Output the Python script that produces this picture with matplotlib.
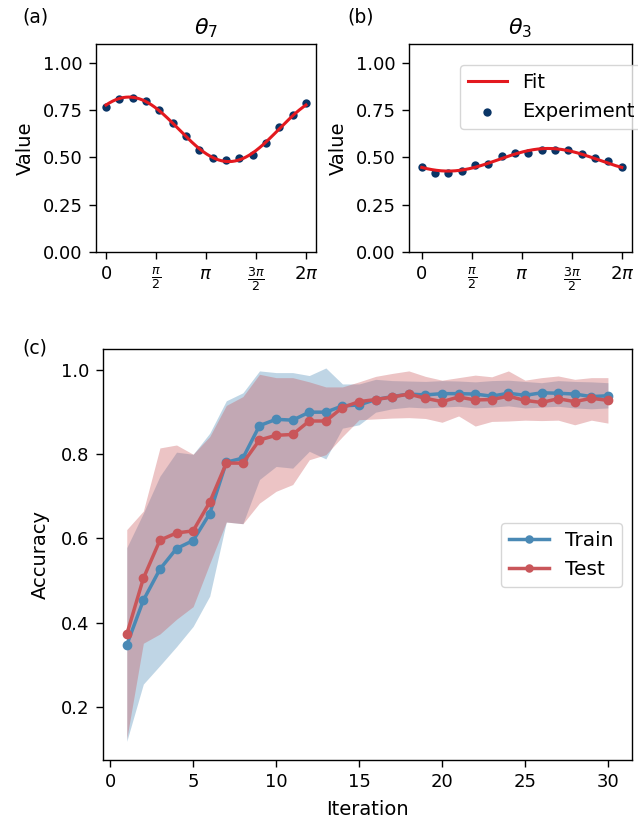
import numpy as np
import matplotlib
matplotlib.use("Agg")
import matplotlib.pyplot as plt

# ---------------- data ----------------
n_angles = 16
theta7_exp = [0.765, 0.809, 0.816, 0.798, 0.749, 0.685, 0.611, 0.540,
              0.496, 0.487, 0.496, 0.512, 0.575, 0.660, 0.724, 0.791]
theta3_exp = [0.448, 0.419, 0.419, 0.430, 0.460, 0.465, 0.508, 0.522,
              0.526, 0.540, 0.540, 0.540, 0.519, 0.497, 0.480, 0.448]

iterations = list(range(1, 31))
train_mean = [0.347, 0.453, 0.527, 0.576, 0.595, 0.659, 0.781, 0.791, 0.868, 0.883,
              0.881, 0.900, 0.900, 0.915, 0.917, 0.930, 0.937, 0.943, 0.941, 0.944,
              0.944, 0.943, 0.938, 0.945, 0.940, 0.946, 0.945, 0.943, 0.937, 0.939]
train_low = [0.118, 0.254, 0.298, 0.343, 0.391, 0.463, 0.639, 0.635, 0.740, 0.771,
             0.767, 0.807, 0.789, 0.862, 0.870, 0.900, 0.908, 0.912, 0.910, 0.912,
             0.914, 0.910, 0.912, 0.915, 0.910, 0.912, 0.914, 0.910, 0.908, 0.910]
train_high = [0.578, 0.660, 0.748, 0.805, 0.800, 0.850, 0.927, 0.946, 0.998, 0.994,
              0.994, 0.987, 1.005, 0.967, 0.967, 0.978, 0.975, 0.974, 0.973, 0.975,
              0.974, 0.972, 0.975, 0.976, 0.973, 0.970, 0.975, 0.973, 0.972, 0.970]

test_mean = [0.372, 0.505, 0.596, 0.613, 0.618, 0.686, 0.779, 0.779, 0.834, 0.845,
             0.847, 0.879, 0.879, 0.911, 0.925, 0.930, 0.936, 0.943, 0.933, 0.925,
             0.936, 0.929, 0.930, 0.938, 0.928, 0.923, 0.932, 0.925, 0.933, 0.928]
test_low = [0.124, 0.351, 0.373, 0.408, 0.438, 0.540, 0.639, 0.635, 0.684, 0.712,
            0.728, 0.787, 0.799, 0.842, 0.882, 0.884, 0.886, 0.887, 0.885, 0.876,
            0.891, 0.867, 0.878, 0.879, 0.881, 0.880, 0.881, 0.870, 0.881, 0.874]
test_high = [0.621, 0.665, 0.815, 0.822, 0.800, 0.842, 0.916, 0.937, 0.990, 0.982,
             0.982, 0.972, 0.960, 0.960, 0.972, 0.985, 0.992, 0.998, 0.985, 0.976,
             0.982, 0.988, 0.984, 0.998, 0.976, 0.982, 0.986, 0.978, 0.982, 0.982]

pi_ticks = [0, np.pi / 2, np.pi, 3 * np.pi / 2, 2 * np.pi]
pi_labels = ['0', r'$\frac{\pi}{2}$', r'$\pi$', r'$\frac{3\pi}{2}$', r'$2\pi$']

# ---------------- style ----------------
FS = 13
LFS = 14
LEGFS = 14.5
plt.rcParams['font.family'] = ['DejaVu Sans']
plt.rcParams['mathtext.fontset'] = 'dejavusans'
plt.rcParams['axes.linewidth'] = 1.0
plt.rcParams['xtick.major.size'] = 5.0
plt.rcParams['ytick.major.size'] = 5.0
plt.rcParams['xtick.major.width'] = 1.0
plt.rcParams['ytick.major.width'] = 1.0
plt.rcParams['xtick.major.pad'] = 4.5
plt.rcParams['ytick.major.pad'] = 4.5

fit_color = '#e3191f'
pt_color = '#0a3566'
train_color = '#4a89b5'
test_color = '#c9565a'

W, H = 638, 823
fig = plt.figure(figsize=(W / 100, H / 100), dpi=100)


def rect(x0, y0, x1, y1):
    return [x0 / W, 1 - y1 / H, (x1 - x0) / W, (y1 - y0) / H]


def sin_fit(x, y, xs):
    A = np.column_stack([np.ones_like(x), np.sin(x), np.cos(x)])
    c, *_ = np.linalg.lstsq(A, y, rcond=None)
    return c[0] + c[1] * np.sin(xs) + c[2] * np.cos(xs)


x_ang = np.linspace(0, 2 * np.pi, n_angles)
x_dense = np.linspace(0, 2 * np.pi, 300)

ax_a = fig.add_axes(rect(96, 44.3, 316, 251.7))
ax_b = fig.add_axes(rect(409, 44.3, 632, 251.7))

for ax, data, title in [(ax_a, theta7_exp, r'$\theta_7$'), (ax_b, theta3_exp, r'$\theta_3$')]:
    y = np.array(data)
    ax.plot(x_dense, sin_fit(x_ang, y, x_dense), color=fit_color, lw=2.2, label='Fit', zorder=3)
    ax.scatter(x_ang, y, color=pt_color, s=36, label='Experiment', zorder=2, linewidths=0)
    ax.set_ylim(0, 1.1)
    ax.set_yticks([0, 0.25, 0.5, 0.75, 1.0])
    ax.set_xticks(pi_ticks)
    ax.set_xticklabels(pi_labels)
    ax.tick_params(labelsize=FS)
    ax.set_ylabel('Value', fontsize=LFS, labelpad=6)
    ax.set_title(title, fontsize=16, pad=7)

ax_b.set_xlim(-0.4, 2 * np.pi + 0.32)
leg = ax_b.legend(loc='upper left', bbox_to_anchor=(0.185, 0.945), fontsize=14,
                  frameon=True, handlelength=2.0)

ax_c = fig.add_axes(rect(102.7, 349.3, 632, 760))
ax_c.fill_between(iterations, train_low, train_high, color=train_color, alpha=0.35, lw=0)
ax_c.fill_between(iterations, test_low, test_high, color=test_color, alpha=0.35, lw=0)
ax_c.plot(iterations, train_mean, '-o', color=train_color, lw=2.5, ms=6, label='Train')
ax_c.plot(iterations, test_mean, '-o', color=test_color, lw=2.5, ms=6, label='Test')
ax_c.set_xticks([0, 5, 10, 15, 20, 25, 30])
ax_c.set_yticks([0.2, 0.4, 0.6, 0.8, 1.0])
ax_c.tick_params(labelsize=FS)
ax_c.set_xlabel('Iteration', fontsize=LFS, labelpad=6)
ax_c.set_ylabel('Accuracy', fontsize=LFS, labelpad=8)
ax_c.legend(loc='center right', fontsize=LEGFS, markerscale=0.85)

fig.text(22 / W, 1 - 17 / H, '(a)', fontsize=13.5, va='center', ha='left')
fig.text(347 / W, 1 - 17 / H, '(b)', fontsize=13.5, va='center', ha='left')
fig.text(22 / W, 1 - 348 / H, '(c)', fontsize=13.5, va='center', ha='left')

fig.savefig('out.png', dpi=100)
